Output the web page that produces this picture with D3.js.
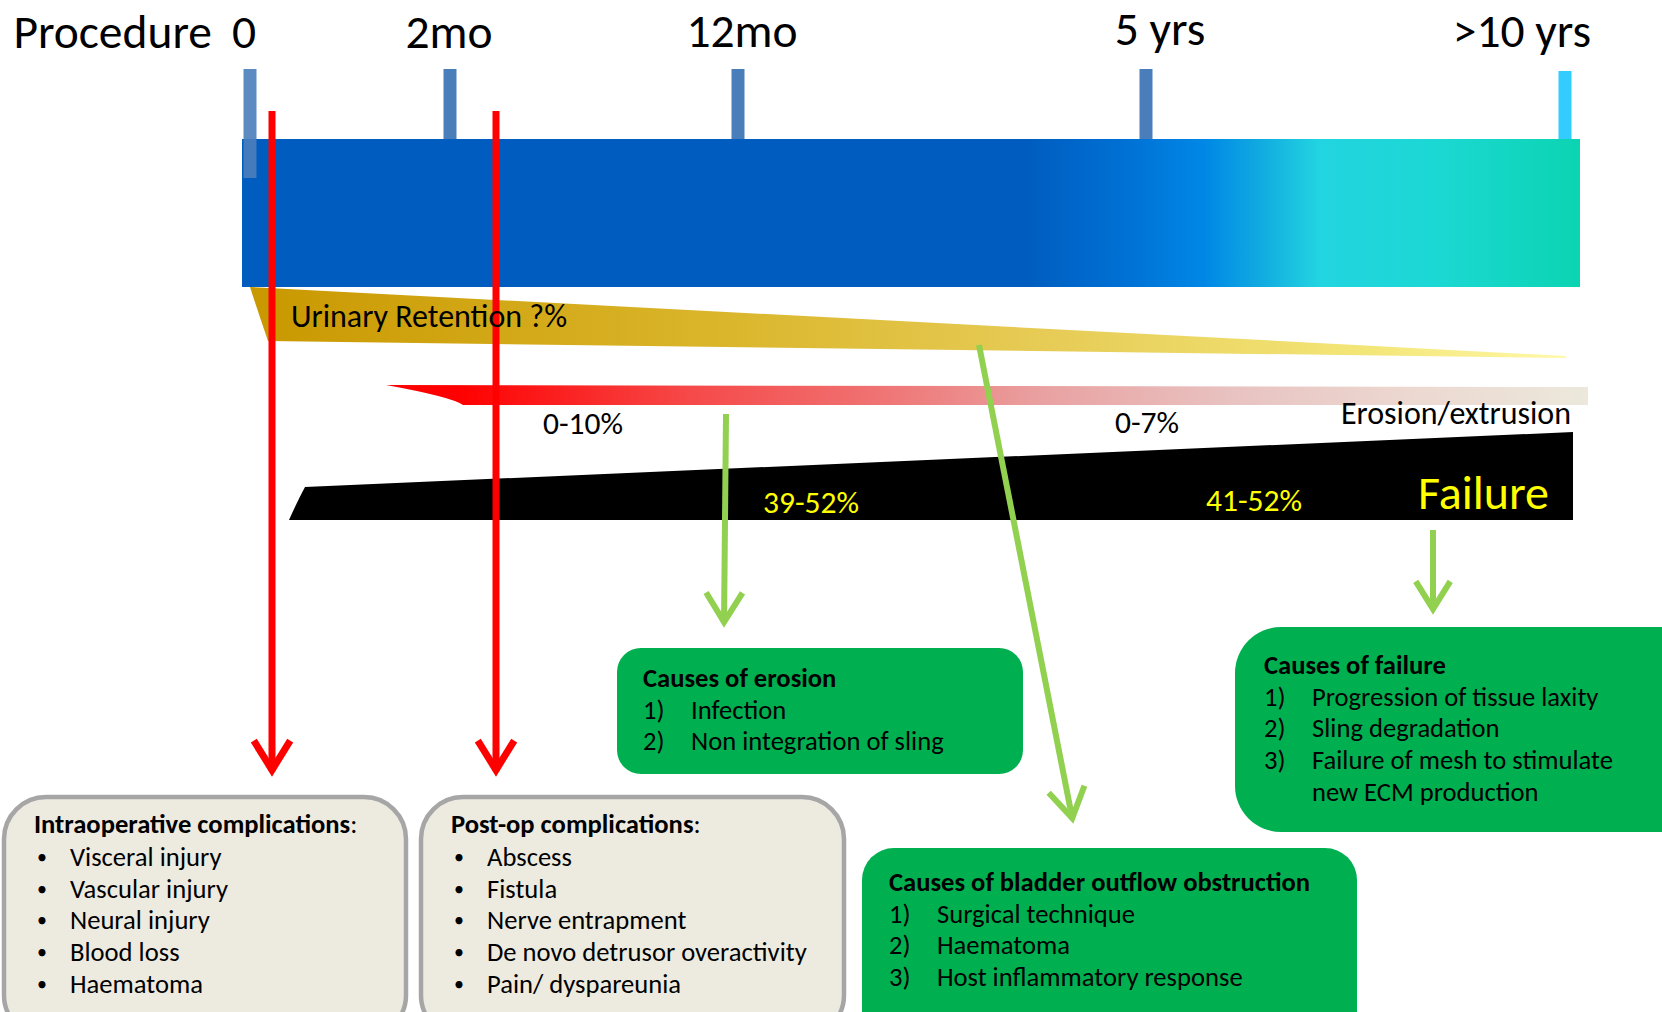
<!DOCTYPE html>
<html><head><meta charset="utf-8">
<script src="https://cdn.jsdelivr.net/npm/d3@7/dist/d3.min.js"></script>
<style>
html,body{margin:0;padding:0;background:#fff;}
svg{display:block;font-family:Carlito,Calibri,Lato,"Open Sans",sans-serif;}
</style></head>
<body><svg id="c" width="1662" height="1012"></svg>
<script>
// ---------- data ----------
const timeMonths = [0, 2, 12, 60, 120];
const timeLabels = ["0", "2mo", "12mo", "5 yrs", ">10 yrs"];
const startLabel = "Procedure";
const retentionLabel = "Urinary Retention ?%";
const erosionLabel = "Erosion/extrusion";
const erosionRates = ["0-10%", "0-7%"];
const failureLabel = "Failure";
const failureRates = ["39-52%", "41-52%"];
const intraopTitle = "Intraoperative complications";
const intraopItems = ["Visceral injury", "Vascular injury", "Neural injury", "Blood loss", "Haematoma"];
const postopTitle = "Post-op complications";
const postopItems = ["Abscess", "Fistula", "Nerve entrapment", "De novo detrusor overactivity", "Pain/ dyspareunia"];
const erosionCauseTitle = "Causes of erosion";
const erosionCauses = ["Infection", "Non integration of sling"];
const booTitle = "Causes of bladder outflow obstruction";
const booCauses = ["Surgical technique", "Haematoma", "Host inflammatory response"];
const failureCauseTitle = "Causes of failure";
const failureCauses = [["Progression of tissue laxity"], ["Sling degradation"], ["Failure of mesh to stimulate", "new ECM production"]];

// ---------- layout ----------
const svg = d3.select("#c");
const x = d3.scaleLinear().domain(timeMonths).range([250, 450, 738, 1146, 1565]);
const defs = svg.append("defs");
function grad(id, stops){
  const g = defs.append("linearGradient").attr("id", id).attr("x1","0").attr("x2","1").attr("y1","0").attr("y2","0");
  stops.forEach(s => g.append("stop").attr("offset", s[0]).attr("stop-color", s[1]));
}
grad("gBlue", [[0,"#005cbf"],[0.585,"#005cbf"],[0.665,"#0072d6"],[0.72,"#0088e6"],[0.765,"#12aee0"],[0.805,"#22d4e0"],[0.89,"#1cd8d4"],[1,"#0bd4b2"]]);
grad("gGold", [[0,"#c99800"],[0.35,"#dab52a"],[0.6,"#e6cb55"],[0.85,"#f3e678"],[1,"#fff8a8"]]);
grad("gRed", [[0,"#ff0000"],[0.06,"#ff0000"],[0.25,"#f64848"],[0.4,"#f07070"],[0.55,"#e9a2a2"],[0.7,"#e8c2c0"],[0.85,"#ecd8d0"],[1,"#ece8dc"]]);

// main bar
svg.append("rect").attr("x", 242).attr("y", 139).attr("width", 1338).attr("height", 148).attr("fill","url(#gBlue)");

// ticks
svg.selectAll("rect.tk").data(timeMonths).enter().append("rect").attr("class","tk")
  .attr("x", d => x(d) - 6.5).attr("width", 13)
  .attr("y", (d,i) => i === 4 ? 71 : 69)
  .attr("height", (d,i) => i === 0 ? 109 : (i === 4 ? 68 : 70))
  .attr("fill", (d,i) => i === 4 ? "#33ccff" : "#4a7ebb")
  .attr("opacity", (d,i) => i === 0 ? 0.9 : 1);

// time axis labels
const labelDx = [-6, -1, 4, 14, -43];
const labelBase = [48, 48, 47, 45, 47];
svg.append("text").attr("x", 212).attr("y", 48).attr("text-anchor","end")
  .attr("font-size", 47.5).attr("fill","#000").text(startLabel);
svg.selectAll("text.tl").data(timeMonths).enter().append("text").attr("class","tl")
  .attr("x", (d,i) => x(d) + labelDx[i]).attr("y", (d,i) => labelBase[i])
  .attr("text-anchor","middle").attr("font-size", 47.5).attr("fill","#000")
  .text((d,i) => timeLabels[i]);

// wedges
svg.append("path").attr("fill","url(#gGold)")
  .attr("d","M250,287 L1566,356 L1566,358 L268,341 Q258,312 250,287 Z");
svg.append("path").attr("fill","url(#gRed)")
  .attr("d","M386,385 L1588,387 L1588,405 L463,405 Q452,397 386,385 Z");
svg.append("path").attr("fill","#000")
  .attr("d","M305,487 L1573,432 L1573,520 L289,520 Q298,500 305,487 Z");

// arrows
function arrow(x1, y1, x2, y2, color, w, head){
  const a = Math.atan2(y2 - y1, x2 - x1);
  const g = svg.append("g").attr("stroke", color).attr("stroke-width", w).attr("fill","none");
  g.append("line").attr("x1",x1).attr("y1",y1).attr("x2",x2 - Math.cos(a)*3).attr("y2",y2 - Math.sin(a)*3);
  const sp = 0.5;
  const p1 = [x2 - head*Math.cos(a - sp), y2 - head*Math.sin(a - sp)];
  const p2 = [x2 - head*Math.cos(a + sp), y2 - head*Math.sin(a + sp)];
  g.append("path").attr("stroke-linejoin","miter").attr("stroke-miterlimit",10)
    .attr("d", `M${p1[0]},${p1[1]} L${x2 - Math.cos(a)*4},${y2 - Math.sin(a)*4} L${p2[0]},${p2[1]}`);
}
arrow(272, 111, 272, 774, "#ff0000", 7, 38);
arrow(496, 111, 496, 774, "#ff0000", 7, 38);
arrow(726, 414, 724, 626, "#92d050", 6, 38);
arrow(979, 345, 1073, 822, "#92d050", 6, 38);
arrow(1433, 530, 1433, 613, "#92d050", 6, 36);

// wedge labels
svg.append("text").attr("x", 291).attr("y", 327).attr("font-size", 32).attr("fill","#000").text(retentionLabel);
svg.append("text").attr("x", 543).attr("y", 434).attr("font-size", 31.5).text(erosionRates[0]);
svg.append("text").attr("x", 1115).attr("y", 433).attr("font-size", 31.5).text(erosionRates[1]);
svg.append("text").attr("x", 1571).attr("y", 424).attr("text-anchor","end").attr("font-size", 32).text(erosionLabel);
svg.append("text").attr("x", 763).attr("y", 513).attr("font-size", 31.5).attr("fill","#ffff00").text(failureRates[0]);
svg.append("text").attr("x", 1206).attr("y", 511).attr("font-size", 31.5).attr("fill","#ffff00").text(failureRates[1]);
svg.append("text").attr("x", 1418).attr("y", 509).attr("font-size", 48).attr("fill","#ffff00").text(failureLabel);

// boxes
function box(x0, y0, w, h, r, fill, stroke){
  svg.append("rect").attr("x",x0).attr("y",y0).attr("width",w).attr("height",h).attr("rx",r).attr("ry",r)
    .attr("fill",fill).attr("stroke",stroke || "none").attr("stroke-width", stroke ? 4.5 : 0);
}
const fs = 26.6;
function bulletBox(x0, title, items){
  const t = svg.append("text").attr("x", x0 + 30).attr("y", 833).attr("font-size", fs);
  t.append("tspan").attr("font-weight","bold").text(title);
  t.append("tspan").text(":");
  items.forEach((s,i) => {
    svg.append("text").attr("x", x0 + 33).attr("y", 864 + i*31.7).attr("font-size", 20).text("\u2022");
    svg.append("text").attr("x", x0 + 66).attr("y", 866 + i*31.7).attr("font-size", fs).text(s);
  });
}
box(4, 797, 402, 240, 42, "#edeae0", "#a6a6a6");
bulletBox(4, intraopTitle, intraopItems);
box(421, 797, 423, 240, 42, "#edeae0", "#a6a6a6");
bulletBox(421, postopTitle, postopItems);

function numBox(x0, yTitle, title, items, gap){
  svg.append("text").attr("x", x0).attr("y", yTitle).attr("font-size", fs).attr("font-weight","bold").text(title);
  let line = 1;
  items.forEach((it,i) => {
    const arr = Array.isArray(it) ? it : [it];
    svg.append("text").attr("x", x0).attr("y", yTitle + line*31.7).attr("font-size", fs).text((i+1) + ")");
    arr.forEach(s => {
      svg.append("text").attr("x", x0 + gap).attr("y", yTitle + line*31.7).attr("font-size", fs).text(s);
      line++;
    });
  });
}
box(617, 648, 406, 126, 24, "#00b050");
numBox(643, 687, erosionCauseTitle, erosionCauses, 48);
box(862, 848, 495, 200, 32, "#00b050");
numBox(889, 891, booTitle, booCauses, 48);
box(1235, 627, 480, 205, 46, "#00b050");
numBox(1264, 674, failureCauseTitle, failureCauses, 48);
</script></body></html>
